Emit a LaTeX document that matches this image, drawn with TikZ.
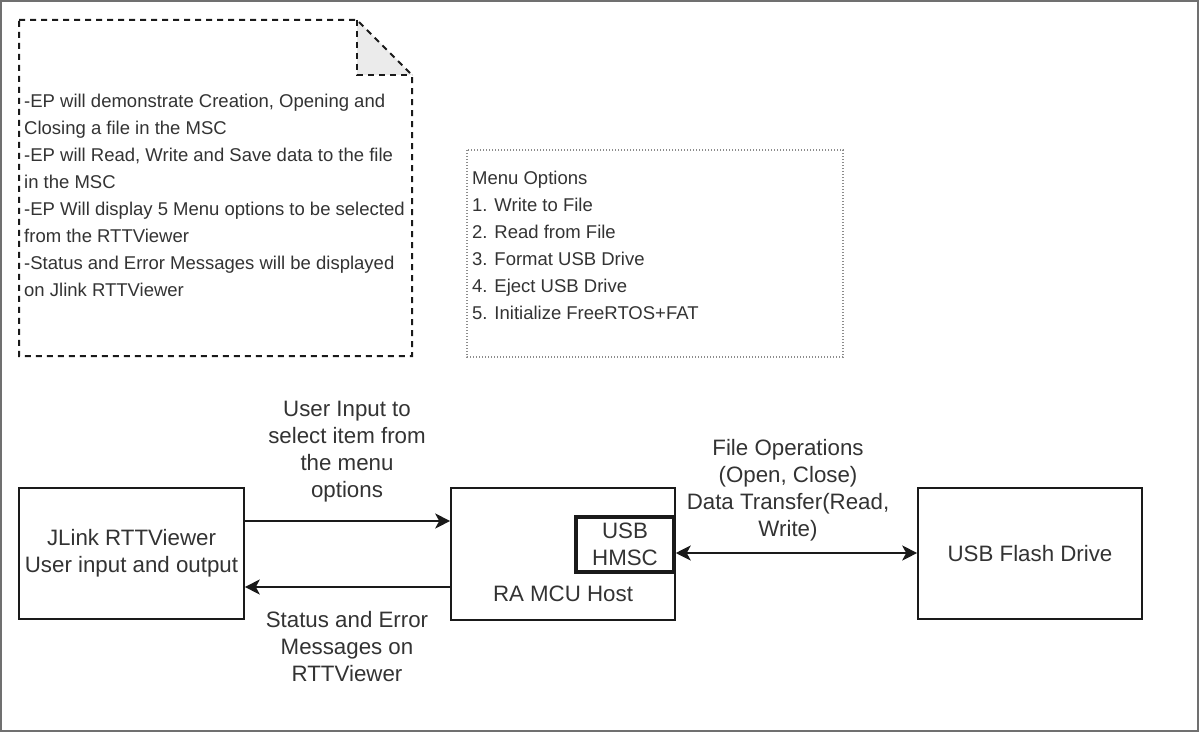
\documentclass[tikz,border=0pt]{standalone}
\usepackage{fontspec}
\setmainfont{Liberation Sans}
\usetikzlibrary{arrows.meta}
\definecolor{txt}{HTML}{333333}
\definecolor{ln}{HTML}{1A1A1A}
\definecolor{framec}{HTML}{707070}
\definecolor{foldfill}{HTML}{EBEBEB}
\definecolor{dotc}{HTML}{8C8C8C}
\newcommand\bigfnt{\fontsize{22.3}{27}\selectfont}
\newcommand\smallfnt{\fontsize{18.5}{27}\selectfont}
\begin{document}
\begin{tikzpicture}[x=1pt,y=-1pt,
  box/.style={draw=ln, line width=1.6pt, rectangle, inner sep=0pt, text=txt, font=\bigfnt, align=center},
  lbl/.style={text=txt, font=\bigfnt, align=center, inner sep=0pt},
  smalltxt/.style={text=txt, font=\smallfnt, align=left, inner sep=0pt, anchor=north west},
  conn/.style={draw=ln, line width=1.8pt, -{Stealth[length=15pt,width=15pt,inset=4pt]}},
  dconn/.style={draw=ln, line width=1.8pt, {Stealth[length=15pt,width=15pt,inset=4pt]}-{Stealth[length=15pt,width=15pt,inset=4pt]}},
  notestyle/.style={draw=ln, line width=2pt, dash pattern=on 6pt off 5pt},
  menustyle/.style={draw=dotc, line width=1.1pt, dash pattern=on 1.2pt off 1.8pt}
]
\useasboundingbox (0,0) rectangle (1200,733);
\fill[white] (0,0) rectangle (1200,733);
\draw[framec, line width=2pt] (1,1) rectangle (1198,731);

% note
\fill[foldfill] (357,20) -- (412,75) -- (357,75) -- cycle;
\draw[notestyle] (19,20) -- (357,20) -- (412,75) -- (412,356) -- (19,356) -- cycle;
\draw[notestyle] (357,20) -- (357,75) -- (412,75);
\node[smalltxt] (notetext) at (24,94) {-EP will demonstrate Creation, Opening and\\Closing a file in the MSC\\-EP will Read, Write and Save data to the file\\in the MSC\\-EP Will display 5 Menu options to be selected\\from the RTTViewer\\-Status and Error Messages will be displayed\\on Jlink RTTViewer};

% menu options
\draw[menustyle] (467,150) rectangle (843,357);
\node[smalltxt] (menutext) at (472,171) {Menu Options\\1. Write to File\\2. Read from File\\3. Format USB Drive\\4. Eject USB Drive\\5. Initialize FreeRTOS+FAT};

% boxes
\node[box, minimum width=225pt, minimum height=131pt] (jl) at (131.5,553.5) {JLink RTTViewer\\User input and output};
\node[box, minimum width=224pt, minimum height=132pt] (ra) at (563,554) {};
\node[lbl] (ratext) at (563,594) {RA MCU Host};
\node[box, line width=3.5pt, minimum width=98pt, minimum height=55pt] (hmsc) at (625,544.5) {USB\\HMSC};
\node[box, minimum width=224pt, minimum height=131pt] (fd) at (1030,553.5) {USB Flash Drive};

% connectors
\draw[conn] (jl.east |- 0,521) -- (ra.west |- 0,521);
\draw[conn] (ra.west |- 0,587) -- (jl.east |- 0,587);
\draw[dconn] (hmsc.east |- 0,553) -- (fd.west |- 0,553);

% labels
\node[lbl] (l1) at (347,452) {User Input to\\select item from\\the menu\\options};
\node[lbl] (l2) at (347,647) {Status and Error\\Messages on\\RTTViewer};
\node[lbl] (l3) at (788,490.5) {File Operations\\(Open, Close)\\Data Transfer(Read,\\Write)};
\end{tikzpicture}
\end{document}
